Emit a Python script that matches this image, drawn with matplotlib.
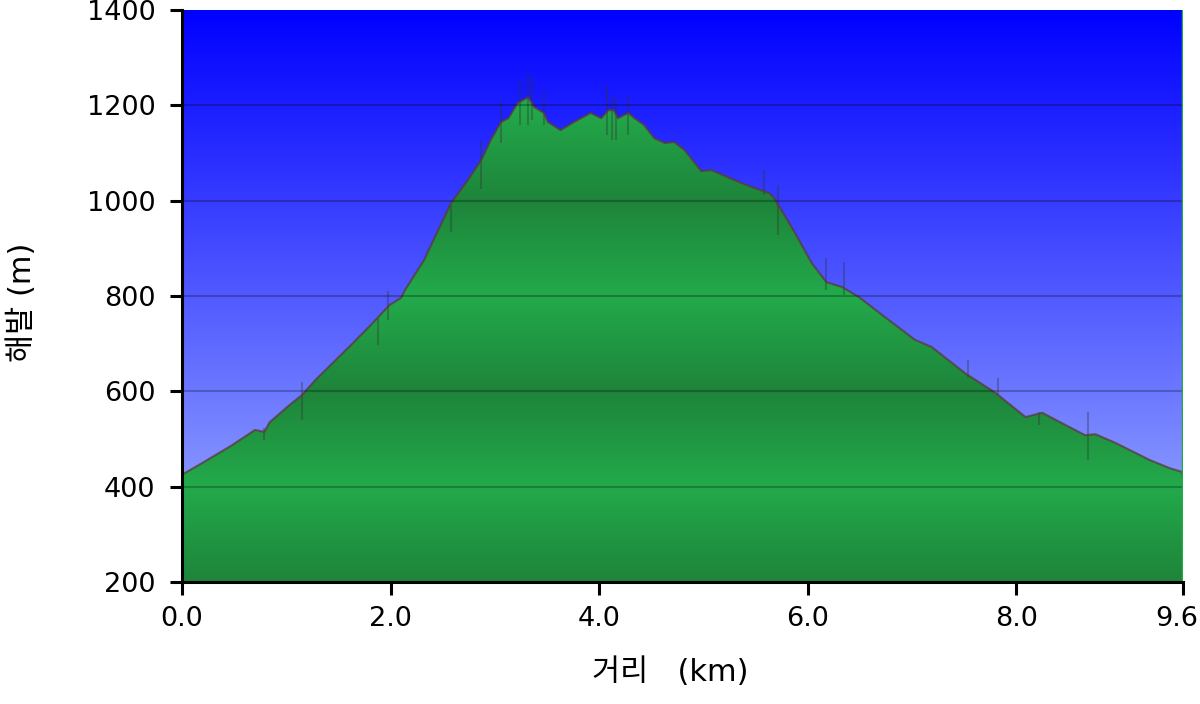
import numpy as np
import matplotlib.pyplot as plt
from matplotlib.patches import Polygon
from matplotlib.transforms import ScaledTranslation

# 거리(km) / 해발(m) - 그림에서 읽은 값
dist_km = [0.00, 0.22, 0.48, 0.70, 0.79, 0.84, 1.03, 1.15, 1.28, 1.62, 1.81, 1.99,
           2.10, 2.14, 2.32, 2.58, 2.74, 2.87, 2.96, 3.06, 3.13, 3.22, 3.32, 3.38,
           3.47, 3.51, 3.63, 3.76, 3.92, 4.02, 4.09, 4.14, 4.18, 4.28, 4.34, 4.43,
           4.53, 4.63, 4.72, 4.82, 4.98, 5.08, 5.30, 5.46, 5.63, 5.67, 5.75, 5.88,
           6.04, 6.18, 6.33, 6.49, 6.74, 7.03, 7.19, 7.51, 7.80, 8.09, 8.25, 8.38,
           8.66, 8.76, 8.95, 9.28, 9.47, 9.59, 9.60]
elev_m = [425, 453, 487, 519, 515, 535, 571, 592, 624, 697, 739, 781,
          796, 813, 875, 995, 1043, 1085, 1127, 1165, 1173, 1205, 1217, 1196,
          1184, 1165, 1148, 1165, 1184, 1173, 1190, 1190, 1173, 1184, 1173, 1159,
          1131, 1121, 1123, 1106, 1062, 1064, 1043, 1029, 1016, 1008, 980, 932,
          869, 829, 819, 798, 756, 708, 693, 638, 597, 546, 555, 540,
          508, 510, 492, 456, 439, 431, 418]

# GPS 튐 (세로 잡음선)
spike_km = [0.79, 1.15, 1.88, 1.98, 2.58, 2.87, 3.06, 3.24, 3.32, 3.36, 3.47,
            4.08, 4.12, 4.16, 4.28, 5.58, 5.72, 6.18, 6.35, 7.54, 7.83, 8.22, 8.69]
spike_lo = [498, 540, 697, 750, 934, 1025, 1120, 1159, 1159, 1170, 1159,
            1138, 1127, 1127, 1138, 1012, 928, 813, 802, 628, 592, 529, 456]
spike_hi = [523, 620, 754, 810, 990, 1125, 1210, 1253, 1270, 1260, 1232,
            1243, 1222, 1215, 1222, 1064, 1033, 880, 871, 666, 628, 557, 557]

xticks = [0.0, 2.0, 4.0, 6.0, 8.0, 9.6]
xticklabels = ["0.0", "2.0", "4.0", "6.0", "8.0", "9.6"]
yticks = [200, 400, 600, 800, 1000, 1200, 1400]

fig = plt.figure(figsize=(12, 7.04), dpi=100)
ax = fig.add_axes([182 / 1200, 1 - 582 / 704, 1001 / 1200, 572 / 704])
ax.set_xlim(0, 9.6)
ax.set_ylim(200, 1400)

# 배경: 위는 파랑, 아래로 갈수록 연보라
n = 600
f = np.linspace(0, 1, n)[:, None]
top = np.array([0, 0, 255]) / 255
bot = np.array([162, 180, 255]) / 255
bg = (top + (bot - top) * f)[:, None, :].repeat(2, axis=1)
ax.imshow(bg, extent=[0, 9.6, 200, 1400], origin="upper", aspect="auto", zorder=0)

# 지형 채우기: 400m 주기로 밝고 어두운 녹색
ev = np.linspace(1400, 200, n)
t = np.abs((ev % 400) - 200) / 200
light = np.array([35, 170, 75]) / 255
dark = np.array([30, 132, 58]) / 255
gr = (dark + (light - dark) * t[:, None])[:, None, :].repeat(2, axis=1)
verts = list(zip(dist_km, elev_m)) + [(9.6, 200), (0, 200)]
poly = Polygon(verts, closed=True, facecolor="none", edgecolor="none")
ax.add_patch(poly)
im = ax.imshow(gr, extent=[0, 9.6, 200, 1400], origin="upper", aspect="auto", zorder=1)
im.set_clip_path(poly)

ax.vlines(spike_km, spike_lo, spike_hi, color="#333333", alpha=0.35, lw=1.5, zorder=2)
ax.plot(dist_km, elev_m, color="#5a3a3a", lw=1.5, alpha=0.75, zorder=3)

for yv in yticks[1:-1]:
    ax.axhline(yv, color="black", alpha=0.25, lw=1.5, zorder=4)

ax.axvline(9.6, color="#22aa44", lw=2.5, zorder=5)

for s in ["top", "right"]:
    ax.spines[s].set_visible(False)
for s in ["left", "bottom"]:
    ax.spines[s].set_linewidth(2.2)
    ax.spines[s].set_zorder(6)

ax.set_xticks(xticks)
ax.set_xticklabels(xticklabels)
ax.set_yticks(yticks)
ax.tick_params(length=9, width=2.2, labelsize=19.5, colors="black")
ax.tick_params(axis="y", pad=10)
ax.tick_params(axis="x", pad=8)

# 마지막 눈금 글자 (9.6) 는 살짝 왼쪽으로
last = ax.get_xticklabels()[-1]
last.set_transform(last.get_transform() + ScaledTranslation(-6 / 100, 0, fig.dpi_scale_trans))

fam = ["DejaVu Sans", "Noto Sans CJK KR"]
fig.text(670 / 1200, 1 - 672 / 704, "거리   (km)", ha="center", va="center",
         fontsize=22, family=fam)
fig.text(22 / 1200, 1 - 302 / 704, "해발 (m)", ha="center", va="center",
         rotation=90, fontsize=22, family=fam)

fig.savefig("out.png", dpi=100)
